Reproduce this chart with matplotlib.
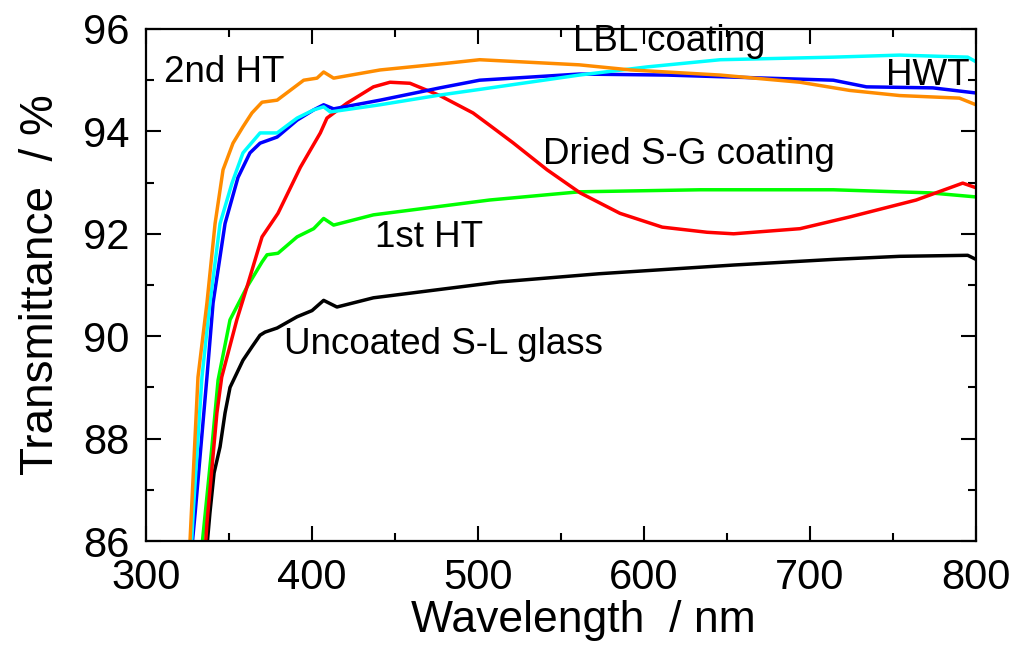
import numpy as np
import matplotlib.pyplot as plt
from matplotlib.ticker import MultipleLocator

plt.rcParams['font.family'] = ['Liberation Sans', 'DejaVu Sans']

# Uncoated S-L glass (black)
wl_glass = [337, 338.5, 341, 344.6, 347.6, 350.6, 358.4, 364, 368.7, 371.7, 379, 391, 400, 407, 415,
            437, 513, 573, 654, 714, 754, 795, 800]
tr_glass = [86.0, 86.55, 87.33, 87.84, 88.5, 89.0, 89.53, 89.8, 90.02, 90.08, 90.16, 90.38, 90.5, 90.7,
            90.57, 90.75, 91.06, 91.22, 91.39, 91.5, 91.56, 91.58, 91.5]

# 1st HT (green)
wl_ht1 = [334, 339.7, 343.4, 350.6, 360.8, 369.9, 372.9, 379.5, 391, 401, 407, 413, 437, 507, 561,
          634, 714, 772, 800]
tr_ht1 = [86.0, 87.84, 89.14, 90.32, 90.96, 91.45, 91.59, 91.62, 91.94, 92.1, 92.3, 92.17, 92.37,
          92.66, 92.82, 92.86, 92.86, 92.8, 92.72]

# Dried S-G coating (red)
wl_sg = [336, 336.7, 342.7, 345.6, 354.7, 360.8, 366.9, 369.9, 379.5, 393, 405, 409, 421, 437, 447,
         459, 477, 497, 507, 521, 541.6, 561.5, 585.5, 611, 638, 654, 694, 724, 764, 792, 800]
tr_sg = [86.0, 86.35, 88.5, 89.2, 90.32, 90.96, 91.62, 91.94, 92.4, 93.3, 93.97, 94.26, 94.55, 94.87,
         94.96, 94.94, 94.7, 94.36, 94.12, 93.78, 93.25, 92.8, 92.4, 92.13, 92.03, 92.0, 92.1, 92.33,
         92.66, 92.99, 92.9]

# HWT (blue)
wl_hwt = [328, 329.6, 336.7, 340.4, 347.6, 355.4, 362.6, 368.7, 379, 391, 401, 407, 413, 441, 477,
          501, 561, 614, 674, 714, 734, 774, 800]
tr_hwt = [86.0, 86.55, 89.2, 90.65, 92.2, 93.1, 93.58, 93.77, 93.89, 94.22, 94.42, 94.52, 94.44,
          94.61, 94.85, 95.0, 95.12, 95.1, 95.04, 95.0, 94.87, 94.85, 94.75]

# LBL coating (cyan)
wl_lbl = [327.5, 328.4, 333.7, 338.5, 344.6, 351.8, 358.4, 368.7, 379, 391, 401, 407, 411, 441, 477,
          501, 561, 602, 646, 714, 754, 795, 800]
tr_lbl = [86.0, 86.55, 89.2, 90.65, 92.2, 92.99, 93.58, 93.97, 93.97, 94.26, 94.42, 94.48, 94.38,
          94.52, 94.71, 94.82, 95.1, 95.26, 95.4, 95.45, 95.49, 95.45, 95.36]

# 2nd HT (orange)
wl_ht2 = [326.5, 331.3, 336.7, 341.6, 346.4, 352.4, 358.4, 363.8, 369.9, 379, 395, 403, 407, 413,
          441, 481, 501, 561, 592, 646, 694, 724, 754, 790, 800]
tr_ht2 = [86.0, 89.2, 90.65, 92.2, 93.25, 93.77, 94.09, 94.36, 94.57, 94.61, 95.0, 95.04, 95.16,
          95.04, 95.2, 95.33, 95.4, 95.3, 95.2, 95.1, 94.96, 94.8, 94.7, 94.65, 94.52]

fig = plt.figure(figsize=(10.19, 6.53), dpi=100)
ax = fig.add_axes([0.1433, 0.1715, 0.8145, 0.7841])

lw = 2.5
ax.plot(wl_glass, tr_glass, color='black', lw=lw)
ax.plot(wl_ht1, tr_ht1, color='#00FF00', lw=lw)
ax.plot(wl_sg, tr_sg, color='#FF0000', lw=lw)
ax.plot(wl_hwt, tr_hwt, color='#0000FF', lw=lw)
ax.plot(wl_lbl, tr_lbl, color='#00FFFF', lw=lw)
ax.plot(wl_ht2, tr_ht2, color='#FF8C00', lw=lw)

ax.set_xlim(300, 800)
ax.set_ylim(86, 96)
ax.xaxis.set_major_locator(MultipleLocator(100))
ax.xaxis.set_minor_locator(MultipleLocator(50))
ax.yaxis.set_major_locator(MultipleLocator(2))
ax.yaxis.set_minor_locator(MultipleLocator(1))
ax.tick_params(which='both', direction='in', top=True, right=True, width=1.5)
ax.tick_params(which='major', length=11, labelsize=30)
ax.tick_params(axis='x', which='major', pad=12)
ax.tick_params(axis='y', which='major', pad=12)
ax.tick_params(which='minor', length=6)
for s in ax.spines.values():
    s.set_linewidth(1.6)

ax.set_xlabel('Wavelength  / nm', fontsize=32)
ax.xaxis.set_label_coords(0.5265, -0.115)
ax.set_ylabel('Transmittance  / %', fontsize=33, labelpad=14)

fs = 26.5
ax.text(311, 95.16, '2nd HT', fontsize=fs, va='center')
ax.text(557, 95.75, 'LBL coating', fontsize=fs, va='center')
ax.text(746, 95.1, 'HWT', fontsize=fs, va='center')
ax.text(539, 93.54, 'Dried S-G coating', fontsize=fs, va='center')
ax.text(438, 91.92, '1st HT', fontsize=fs, va='center')
ax.text(383, 89.83, 'Uncoated S-L glass', fontsize=fs, va='center')

fig.savefig('out.png', dpi=100)
